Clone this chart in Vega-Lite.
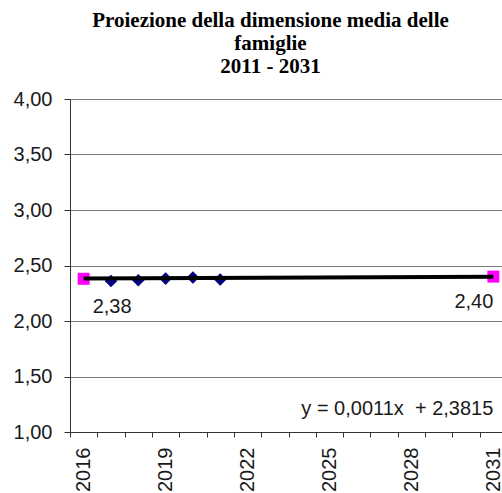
{
  "$schema": "https://vega.github.io/schema/vega-lite/v6.json",
  "width": 437,
  "height": 333,
  "autosize": {"type": "none"},
  "padding": {"left": 70, "top": 99, "right": 0, "bottom": 61},
  "background": "white",
  "title": {
    "text": ["Proiezione della dimensione media delle", "famiglie", "2011 - 2031"],
    "font": "Liberation Serif",
    "fontWeight": "bold",
    "fontSize": 21,
    "lineHeight": 23,
    "color": "black",
    "anchor": "middle",
    "dx": -18,
    "offset": 12
  },
  "config": {
    "view": {"stroke": null},
    "axis": {
      "labelFont": "Liberation Sans",
      "labelFontSize": 20,
      "labelColor": "#1a1a1a",
      "domainColor": "#333333",
      "tickColor": "#333333",
      "title": null
    }
  },
  "datasets": {
    "obs": [
      {"year": 2017, "value": 2.36},
      {"year": 2018, "value": 2.367},
      {"year": 2019, "value": 2.382},
      {"year": 2020, "value": 2.392},
      {"year": 2021, "value": 2.374}
    ],
    "ends": [
      {"year": 2016, "value": 2.38, "label": "2,38"},
      {"year": 2031, "value": 2.40, "label": "2,40"}
    ],
    "trend": [
      {"year": 2016, "value": 2.3826},
      {"year": 2031, "value": 2.3991}
    ],
    "eq": [
      {"year": 2031, "value": 1.15, "text": "y = 0,0011x\u00a0 + 2,3815"}
    ]
  },
  "encoding": {
    "x": {
      "field": "year",
      "type": "ordinal",
      "scale": {
        "type": "band",
        "paddingInner": 0,
        "paddingOuter": 0,
        "domain": [2016, 2017, 2018, 2019, 2020, 2021, 2022, 2023, 2024, 2025, 2026, 2027, 2028, 2029, 2030, 2031]
      },
      "axis": {
        "labelAngle": 270,
        "labelAlign": "right",
        "labelBaseline": "middle",
        "labelPadding": 10,
        "tickSize": 5,
        "tickBand": "extent",
        "labelOverlap": false,
        "labelExpr": "(datum.value - 2016) % 3 == 0 ? datum.label : ''",
        "grid": false
      }
    },
    "y": {
      "field": "value",
      "type": "quantitative",
      "scale": {"domain": [1, 4], "nice": false, "zero": false},
      "axis": {
        "values": [1, 1.5, 2, 2.5, 3, 3.5, 4],
        "labelExpr": "replace(format(datum.value, '.2f'), '.', ',')",
        "tickSize": 6,
        "labelPadding": 12,
        "grid": true,
        "gridColor": "#7a7a7a",
        "gridOpacity": 1,
        "gridWidth": 1
      }
    }
  },
  "layer": [
    {
      "data": {"name": "obs"},
      "mark": {"type": "point", "shape": "diamond", "filled": true, "size": 160, "color": "#000080", "opacity": 1}
    },
    {
      "data": {"name": "ends"},
      "mark": {"type": "point", "shape": "square", "filled": true, "size": 144, "color": "#ff00ff", "opacity": 1}
    },
    {
      "data": {"name": "trend"},
      "mark": {"type": "line", "color": "black", "strokeWidth": 4}
    },
    {
      "data": {"name": "ends"},
      "transform": [{"filter": "datum.year == 2016"}],
      "mark": {"type": "text", "align": "left", "baseline": "alphabetic", "dx": 9, "dy": 34, "font": "Liberation Sans", "fontSize": 20, "color": "#1a1a1a"},
      "encoding": {"text": {"field": "label"}}
    },
    {
      "data": {"name": "ends"},
      "transform": [{"filter": "datum.year == 2031"}],
      "mark": {"type": "text", "align": "right", "baseline": "alphabetic", "dx": 0, "dy": 31, "font": "Liberation Sans", "fontSize": 20, "color": "#1a1a1a"},
      "encoding": {"text": {"field": "label"}}
    },
    {
      "data": {"name": "eq"},
      "mark": {"type": "text", "align": "right", "baseline": "alphabetic", "font": "Liberation Sans", "fontSize": 20, "color": "#1a1a1a"},
      "encoding": {"text": {"field": "text"}}
    }
  ]
}
